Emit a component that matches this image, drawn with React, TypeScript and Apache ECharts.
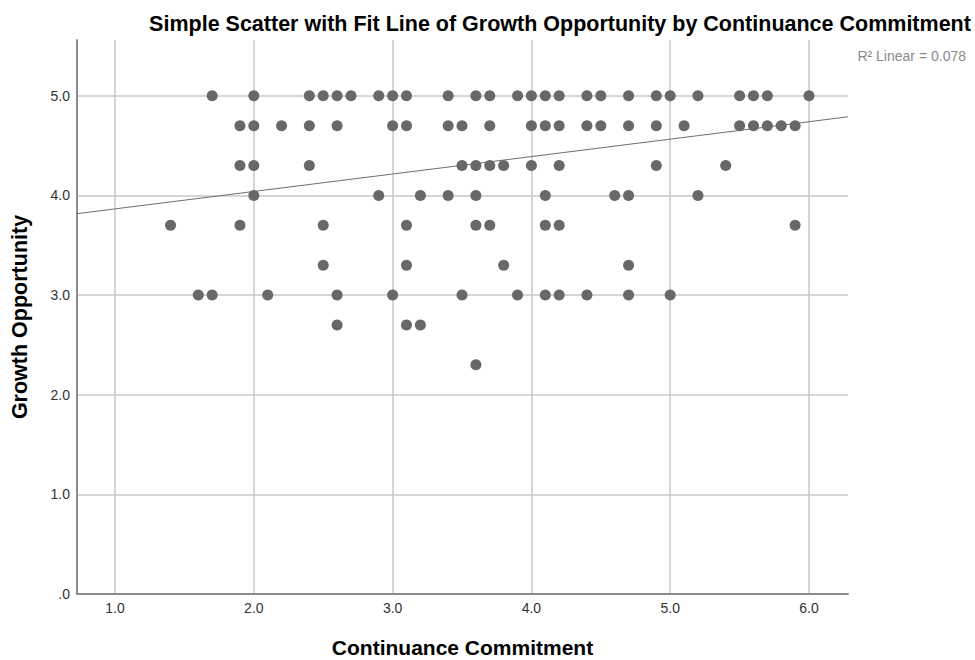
import React, { useEffect, useRef } from "react";
import * as echarts from "echarts";

// Continuance Commitment values grouped by Growth Opportunity level
const ccAt50 = [1.7, 2.0, 2.4, 2.5, 2.6, 2.7, 2.9, 3.0, 3.1, 3.4, 3.6, 3.7, 3.9, 4.0, 4.1, 4.2, 4.4, 4.5, 4.7, 4.9, 5.0, 5.2, 5.5, 5.6, 5.7, 6.0];
const ccAt47 = [1.9, 2.0, 2.2, 2.4, 2.6, 3.0, 3.1, 3.4, 3.5, 3.7, 4.0, 4.1, 4.2, 4.4, 4.5, 4.7, 4.9, 5.1, 5.5, 5.6, 5.7, 5.8, 5.9];
const ccAt43 = [1.9, 2.0, 2.4, 3.5, 3.6, 3.7, 3.8, 4.0, 4.2, 4.9, 5.4];
const ccAt40 = [2.0, 2.9, 3.2, 3.4, 3.6, 4.1, 4.6, 4.7, 5.2];
const ccAt37 = [1.4, 1.9, 2.5, 3.1, 3.6, 3.7, 4.1, 4.2, 5.9];
const ccAt33 = [2.5, 3.1, 3.8, 4.7];
const ccAt30 = [1.6, 1.7, 2.1, 2.6, 3.0, 3.5, 3.9, 4.1, 4.2, 4.4, 4.7, 5.0];
const ccAt27 = [2.6, 3.1, 3.2];
const ccAt23 = [3.6];

const growthLevels = [5.0, 4.7, 4.3, 4.0, 3.7, 3.3, 3.0, 2.7, 2.3];
const rows = [ccAt50, ccAt47, ccAt43, ccAt40, ccAt37, ccAt33, ccAt30, ccAt27, ccAt23];

const xTicks = [1, 2, 3, 4, 5, 6];
const yTicks = [0, 1, 2, 3, 4, 5];

// Linear fit: Growth = intercept + slope * Continuance
const fitIntercept = 3.69;
const fitSlope = 0.175;
const rSquared = "0.078";

const X_MIN = 0.726;
const X_MAX = 6.281;
const Y_MIN = 0;
const Y_MAX = 5.56;

const FONT = "Arial, 'Liberation Sans', sans-serif";

export default function App() {
  const ref = useRef<HTMLDivElement>(null);

  useEffect(() => {
    if (!ref.current) return;
    const chart = echarts.init(ref.current, null, { renderer: "svg" });

    const points: number[][] = [];
    rows.forEach((row, i) => {
      row.forEach((x) => points.push([x, growthLevels[i]]));
    });

    const fitLine = [
      [X_MIN, fitIntercept + fitSlope * X_MIN],
      [X_MAX, fitIntercept + fitSlope * X_MAX],
    ];

    const fmt = (v: number) => (v === 0 ? ".0" : v.toFixed(1));

    chart.setOption({
      animation: false,
      backgroundColor: "#ffffff",
      grid: {
        left: 77,
        right: 127,
        top: 40,
        bottom: 66,
        containLabel: false,
        outerBoundsMode: "none",
      },
      graphic: [
        {
          type: "text",
          x: 560,
          y: 24,
          style: {
            text: "Simple Scatter with Fit Line of Growth Opportunity by Continuance Commitment",
            font: `bold 21.5px ${FONT}`,
            fill: "#000000",
            textAlign: "center",
            textVerticalAlign: "middle",
          },
        },
        {
          type: "text",
          x: 966,
          y: 56,
          style: {
            text: "R² Linear = " + rSquared,
            font: `14px ${FONT}`,
            fill: "#8a8a8a",
            textAlign: "right",
            textVerticalAlign: "middle",
          },
        },
      ],
      xAxis: {
        type: "value",
        min: X_MIN,
        max: X_MAX,
        name: "Continuance Commitment",
        nameLocation: "middle",
        nameGap: 43,
        nameTextStyle: { fontFamily: FONT, fontWeight: "bold", fontSize: 21, color: "#000" },
        axisLine: { show: true, onZero: false, lineStyle: { color: "#8c8c8c", width: 2 } },
        axisTick: { show: false, customValues: xTicks },
        axisLabel: {
          customValues: xTicks,
          formatter: fmt,
          fontFamily: FONT,
          fontSize: 14,
          color: "#333333",
          margin: 7,
        },
        splitLine: { show: true, lineStyle: { color: "#c8c8c8", width: 1.5 } },
      },
      yAxis: {
        type: "value",
        min: Y_MIN,
        max: Y_MAX,
        name: "Growth Opportunity",
        nameLocation: "middle",
        nameGap: 46,
        nameRotate: 90,
        nameTextStyle: { fontFamily: FONT, fontWeight: "bold", fontSize: 21.5, color: "#000" },
        axisLine: { show: true, onZero: false, lineStyle: { color: "#8c8c8c", width: 2 } },
        axisTick: { show: false, customValues: yTicks },
        axisLabel: {
          customValues: yTicks,
          formatter: fmt,
          fontFamily: FONT,
          fontSize: 14,
          color: "#333333",
          margin: 7,
        },
        splitLine: { show: true, lineStyle: { color: "#c8c8c8", width: 1.5 } },
      },
      series: [
        {
          type: "line",
          data: fitLine,
          showSymbol: false,
          symbol: "none",
          lineStyle: { color: "#6e6e6e", width: 1 },
          z: 3,
        },
        {
          type: "scatter",
          data: points,
          symbolSize: 11,
          itemStyle: { color: "#686868", opacity: 1 },
          z: 4,
        },
      ],
    });

    return () => chart.dispose();
  }, []);

  return <div ref={ref} style={{ width: 975, height: 660, position: "absolute", left: 0, top: 0 }} />;
}
